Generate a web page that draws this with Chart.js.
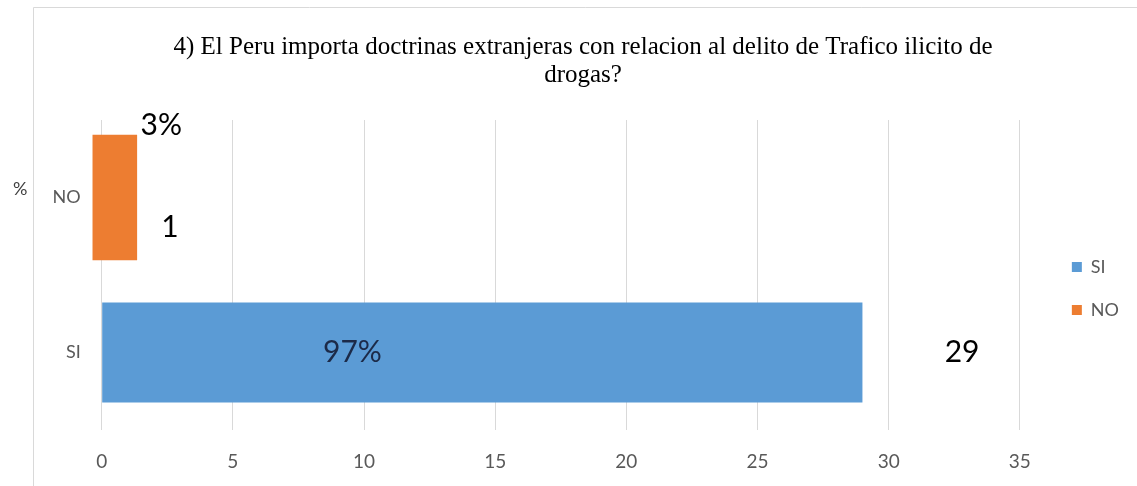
<!DOCTYPE html>
<html>
<head>
<meta charset="utf-8">
<script src="https://cdn.jsdelivr.net/npm/chart.js@4/dist/chart.umd.min.js"></script>
<style>
  html, body { margin: 0; padding: 0; background: #ffffff; }
  #wrap { width: 1137px; height: 486px; position: relative; }
</style>
</head>
<body>
<div id="wrap"><canvas id="c" width="1137" height="486"></canvas></div>
<script>
// ---- data ----
const categories = ['NO', 'SI'];
const seriesNames = ['SI', 'NO'];
const siValues = [null, 29];
const noValues = [[-0.35, 1.35], null];   // orange bar as drawn in the picture
const countLabels = ['1', '29'];          // per category: NO, SI
const percentLabels = ['3%', '97%'];      // per category: NO, SI
const xTicks = [0, 5, 10, 15, 20, 25, 30, 35];
const titleLines = ['4) El Peru importa doctrinas extranjeras con relacion al delito de Trafico ilicito de', 'drogas?'];
const axisNote = '%';

const BLUE = '#5B9BD5';
const ORANGE = '#ED7D31';

const frame = {
  id: 'frame',
  beforeDraw(chart) {
    const ctx = chart.ctx;
    ctx.save();
    ctx.fillStyle = '#ffffff';
    ctx.fillRect(0, 0, chart.width, chart.height);
    ctx.strokeStyle = '#d9d9d9';
    ctx.lineWidth = 1;
    ctx.beginPath();
    ctx.moveTo(33.5, chart.height + 2);
    ctx.lineTo(33.5, 7.5);
    ctx.lineTo(chart.width + 2, 7.5);
    ctx.stroke();
    ctx.restore();
  }
};

const labelsPlugin = {
  id: 'valueLabels',
  afterDatasetsDraw(chart, args, opts) {
    const ctx = chart.ctx;
    const xs = chart.scales.x, ys = chart.scales.y;
    ctx.save();
    ctx.textAlign = 'center';
    ctx.textBaseline = 'middle';
    opts.items.forEach(it => {
      ctx.font = it.font;
      ctx.fillStyle = it.color;
      ctx.fillText(it.text, xs.getPixelForValue(it.x), ys.getPixelForValue(it.cat) + it.dy);
    });
    // axis note "%"
    ctx.font = '18px Lato';
    ctx.fillStyle = '#404040';
    ctx.textAlign = 'left';
    ctx.fillText(axisNote, 13, ys.getPixelForValue(0) - 8);
    ctx.restore();
  }
};

const bigFont = '30px Lato';
new Chart(document.getElementById('c'), {
  type: 'bar',
  data: {
    labels: categories,
    datasets: [
      { label: seriesNames[0], data: siValues, backgroundColor: BLUE, borderWidth: 0,
        grouped: false, barPercentage: 0.645, categoryPercentage: 1, clip: false },
      { label: seriesNames[1], data: noValues, backgroundColor: ORANGE, borderWidth: 0,
        grouped: false, barPercentage: 0.81, categoryPercentage: 1, clip: false }
    ]
  },
  options: {
    indexAxis: 'y',
    responsive: false,
    animation: false,
    layout: { padding: { top: 7, left: 37, right: 8, bottom: 12 } },
    scales: {
      x: {
        min: 0, max: 36.03,
        afterBuildTicks(scale) { scale.ticks = xTicks.map(v => ({ value: v })); },
        afterFit(scale) { scale.height = 44; },
        ticks: { color: '#595959', font: { family: 'Lato', size: 19 }, padding: 20 },
        grid: { color: '#d9d9d9', drawTicks: false, lineWidth: 1 },
        border: { display: false }
      },
      y: {
        afterFit(scale) { scale.width = 64.7; },
        ticks: { color: '#595959', font: { family: 'Lato', size: 18 }, padding: 21 },
        grid: { display: false, drawTicks: false },
        border: { display: false }
      }
    },
    plugins: {
      title: {
        display: true,
        text: titleLines,
        color: '#000000',
        font: { family: 'Liberation Serif', size: 25, weight: 'normal', lineHeight: 1.12 },
        padding: { top: 26, bottom: 31 }
      },
      legend: {
        position: 'right',
        fullSize: false,
        title: { display: true, text: ' ', font: { size: 1, lineHeight: 1 }, padding: { top: 13, bottom: 13 } },
        labels: {
          color: '#595959',
          font: { family: 'Lato', size: 18 },
          boxWidth: 10, boxHeight: 10, padding: 25
        }
      },
      tooltip: { enabled: false },
      valueLabels: {
        items: [
          { text: percentLabels[0], x: 2.27, cat: 0, dy: -72, font: bigFont, color: '#000000' },
          { text: countLabels[0], x: 2.6, cat: 0, dy: 30, font: bigFont, color: '#000000' },
          { text: percentLabels[1], x: 9.56, cat: 1, dy: 0, font: bigFont, color: '#1c2a48' },
          { text: countLabels[1], x: 32.8, cat: 1, dy: 0, font: bigFont, color: '#000000' }
        ]
      }
    }
  },
  plugins: [frame, labelsPlugin]
});
</script>
</body>
</html>
